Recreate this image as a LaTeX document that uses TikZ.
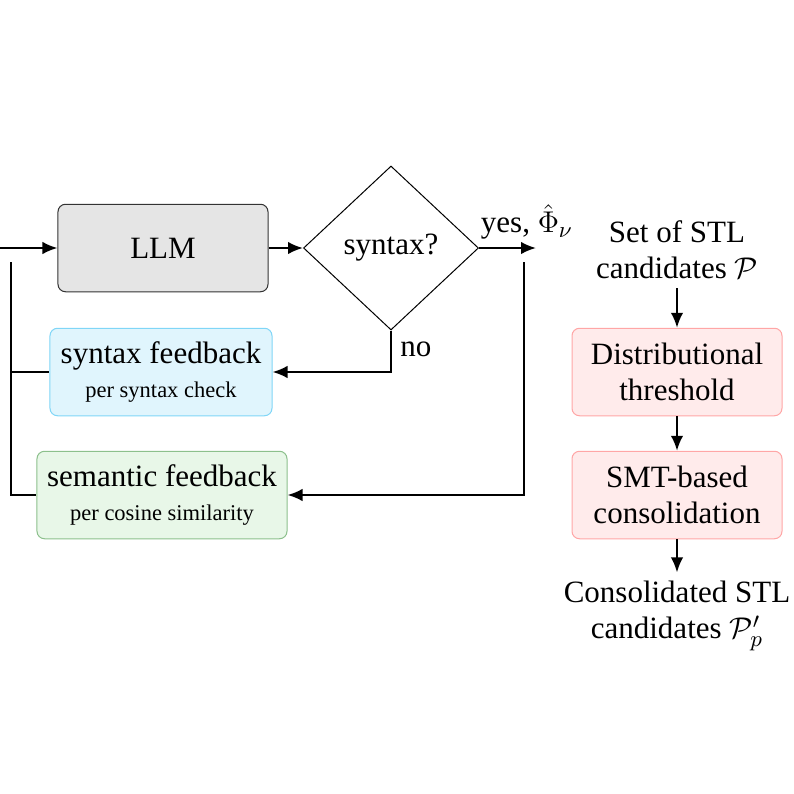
\documentclass[tikz,border=0pt]{standalone}
\usepackage{fontspec}
\setmainfont{Liberation Serif}
\usetikzlibrary{shapes.geometric, arrows.meta, positioning}

\tikzset{
  box/.style={draw, rounded corners=3pt, minimum width=84pt, minimum height=35pt, align=center, font=\fontsize{12.4}{14.5}\selectfont},
  txt/.style={align=center, font=\fontsize{12.4}{14.5}\selectfont},
  small/.style={font=\fontsize{9}{11}\selectfont},
  arr/.style={-{Latex[length=6pt,width=5pt]}, line width=0.8pt},
  ln/.style={line width=0.8pt}
}

\begin{document}
\begin{tikzpicture}[x=0.4pt, y=-0.4pt]
        \useasboundingbox (0,0) rectangle (794,794);
        % Nodes
        \coordinate (in) at (0,248);
        \node[box, fill=gray!20, draw=black!80] (llm) at (163,248) {LLM};
        \node[diamond, draw, minimum width=70pt, minimum height=65.6pt, inner sep=0pt, txt] (syn) at (391,248) {syntax?};
        \coordinate (out) at (536,248);
        \node[box, fill=cyan!12, draw=cyan!50, minimum width=88.8pt] (sf) at (161,372) {syntax feedback\\[-1pt]{\small per syntax check}};
        \node[box, fill=green!50!gray!12, draw=green!45!black!45, minimum width=100pt] (mf) at (162,495) {semantic feedback\\[-1pt]{\small per cosine similarity}};
        \coordinate (lt) at (11,262);
        \coordinate (rt) at (524,262);
        \node[txt] (yes) at (527,222) {yes, $\hat{\Phi}_\nu$};

        \node[txt] (set) at (677,250) {Set of STL\\candidates $\mathcal{P}$};
        \node[box, fill=red!8, draw=red!35] (dist) at (677,372) {Distributional\\threshold};
        \node[box, fill=red!8, draw=red!35] (smt) at (677,495) {SMT-based\\consolidation};
        \node[txt] (cons) at (677,616) {Consolidated STL\\candidates $\mathcal{P}'_p$};

        % Edges
        \draw[arr] (in) -- (llm);
        \draw[arr] (llm) -- (syn);
        \draw[arr] (syn.east) -- (out);
        \draw[arr] (syn.south) -- node[right, pos=0.45, txt] {no} (syn.south |- sf.east) -- (sf.east);
        \draw[arr] (rt) -- (rt |- mf.east) -- (mf.east);
        \draw[ln] (lt) -- (lt |- mf.west) -- (mf.west);
        \draw[ln] (lt |- sf.west) -- (sf.west);
        \draw[arr] (set) -- (dist);
        \draw[arr] (dist) -- (smt);
        \draw[arr] (smt) -- (cons);
    \end{tikzpicture}
\end{document}
